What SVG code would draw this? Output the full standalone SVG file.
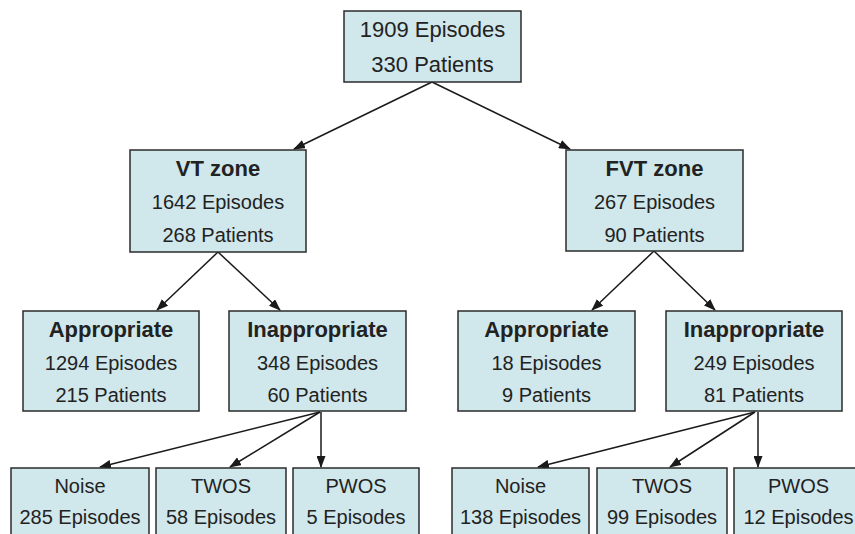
<svg xmlns="http://www.w3.org/2000/svg" width="855" height="534" viewBox="0 0 855 534">
<style>
.box{fill:#d0e7eb;stroke:#2b2b2b;stroke-width:1.5}
text{font-family:"Liberation Sans",Arial,sans-serif;fill:#222;text-anchor:middle}
.t{font-size:20px}
.b{font-size:22px;font-weight:bold}
.top{font-size:22px}
.c{stroke:#1a1a1a;stroke-width:1.5;fill:none;marker-end:url(#ah)}
</style>
<defs>
<marker id="ah" markerUnits="userSpaceOnUse" markerWidth="12" markerHeight="9" refX="11" refY="4.5" orient="auto">
<path d="M0,0 L12,4.5 L0,9 z" fill="#1a1a1a"/>
</marker>
</defs>
<rect width="855" height="534" fill="#fff"/>
<g id="connectors">
<line class="c" x1="432" y1="82" x2="294" y2="149"/>
<line class="c" x1="432" y1="82" x2="570" y2="149"/>
<line class="c" x1="218" y1="252" x2="157" y2="310"/>
<line class="c" x1="218" y1="252" x2="280" y2="310"/>
<line class="c" x1="654" y1="251" x2="592" y2="310"/>
<line class="c" x1="654" y1="251" x2="715" y2="310"/>
<line class="c" x1="320" y1="412" x2="100" y2="467"/>
<line class="c" x1="320" y1="412" x2="230" y2="467"/>
<line class="c" x1="321" y1="412" x2="321" y2="467"/>
<line class="c" x1="755" y1="412" x2="538" y2="467"/>
<line class="c" x1="755" y1="412" x2="670" y2="467"/>
<line class="c" x1="758" y1="412" x2="758" y2="467"/>
</g>
<g id="root">
<rect class="box" x="344" y="11" width="177" height="71"/>
<text class="top" x="432.5" y="37">1909 Episodes</text>
<text class="top" x="432.5" y="72">330 Patients</text>
</g>
<g id="vt">
<rect class="box" x="130" y="150" width="176" height="102"/>
<text class="b" x="218" y="176">VT zone</text>
<text class="t" x="218" y="209">1642 Episodes</text>
<text class="t" x="218" y="242">268 Patients</text>
</g>
<g id="fvt">
<rect class="box" x="566" y="150" width="177" height="101"/>
<text class="b" x="654.5" y="176">FVT zone</text>
<text class="t" x="654.5" y="209">267 Episodes</text>
<text class="t" x="654.5" y="242">90 Patients</text>
</g>
<g id="vt-app">
<rect class="box" x="23" y="311" width="176" height="100"/>
<text class="b" x="111" y="337">Appropriate</text>
<text class="t" x="111" y="370">1294 Episodes</text>
<text class="t" x="111" y="402">215 Patients</text>
</g>
<g id="vt-inapp">
<rect class="box" x="229" y="311" width="177" height="100"/>
<text class="b" x="317.5" y="337">Inappropriate</text>
<text class="t" x="317.5" y="370">348 Episodes</text>
<text class="t" x="317.5" y="402">60 Patients</text>
</g>
<g id="fvt-app">
<rect class="box" x="458" y="311" width="177" height="100"/>
<text class="b" x="546.5" y="337">Appropriate</text>
<text class="t" x="546.5" y="370">18 Episodes</text>
<text class="t" x="546.5" y="402">9 Patients</text>
</g>
<g id="fvt-inapp">
<rect class="box" x="666" y="311" width="176" height="100"/>
<text class="b" x="754" y="337">Inappropriate</text>
<text class="t" x="754" y="370">249 Episodes</text>
<text class="t" x="754" y="402">81 Patients</text>
</g>
<g id="vt-noise">
<rect class="box" x="11" y="468" width="138" height="80"/>
<text class="t" x="80" y="493">Noise</text>
<text class="t" x="80" y="524">285 Episodes</text>
</g>
<g id="vt-twos">
<rect class="box" x="156" y="468" width="130" height="80"/>
<text class="t" x="221" y="493">TWOS</text>
<text class="t" x="221" y="524">58 Episodes</text>
</g>
<g id="vt-pwos">
<rect class="box" x="293" y="468" width="126" height="80"/>
<text class="t" x="356" y="493">PWOS</text>
<text class="t" x="356" y="524">5 Episodes</text>
</g>
<g id="fvt-noise">
<rect class="box" x="452" y="468" width="137" height="80"/>
<text class="t" x="520.5" y="493">Noise</text>
<text class="t" x="520.5" y="524">138 Episodes</text>
</g>
<g id="fvt-twos">
<rect class="box" x="597" y="468" width="130" height="80"/>
<text class="t" x="662" y="493">TWOS</text>
<text class="t" x="662" y="524">99 Episodes</text>
</g>
<g id="fvt-pwos">
<rect class="box" x="734" y="468" width="130" height="80"/>
<text class="t" x="798.5" y="493">PWOS</text>
<text class="t" x="798.5" y="524">12 Episodes</text>
</g>
</svg>
